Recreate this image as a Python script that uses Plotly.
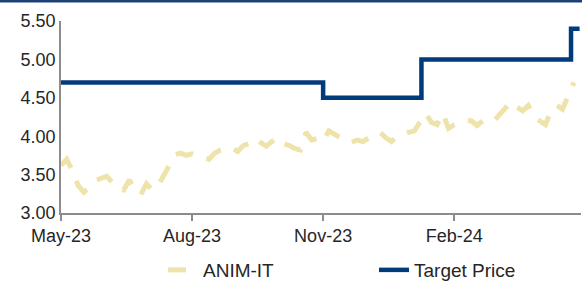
import pandas as pd
import plotly.graph_objects as go

# ANIM-IT price, sampled every 4 days from 2023-05-01
price_start = "2023-05-01"
price_step_days = 4
anim_it = [
    3.62, 3.70, 3.55, 3.36, 3.27, 3.33, 3.42, 3.45, 3.48, 3.40,
    3.31, 3.30, 3.43, 3.30, 3.24, 3.38, 3.30, 3.35, 3.50, 3.62,
    3.76, 3.78, 3.75, 3.77, 3.74, 3.72, 3.70, 3.78, 3.82, 3.83,
    3.85, 3.80, 3.88, 3.90, 3.97, 3.92, 3.87, 3.93, 3.98, 3.90,
    3.88, 3.84, 3.82, 4.05, 3.95, 3.97, 3.93, 4.07, 4.03, 3.98,
    3.93, 3.92, 3.95, 3.93, 3.98, 4.02, 4.05, 3.98, 3.93, 4.00,
    4.03, 4.05, 4.07, 4.20, 4.30, 4.18, 4.15, 4.30, 4.10, 4.15,
    4.18, 4.20, 4.20, 4.14, 4.20, 4.22, 4.20, 4.28, 4.37, 4.30,
    4.38, 4.33, 4.40, 4.25, 4.20, 4.15, 4.33, 4.40, 4.35, 4.52,
    4.70,
]
price_dates = pd.date_range(price_start, periods=len(anim_it), freq=f"{price_step_days}D")

# Target price (step changes)
target_dates = ["2023-05-01", "2023-11-01", "2024-01-09", "2024-04-23", "2024-04-29"]
target_price = [4.70, 4.50, 5.00, 5.40, 5.40]

y_ticks = [3.00, 3.50, 4.00, 4.50, 5.00, 5.50]

fig = go.Figure()
fig.add_trace(go.Scatter(
    x=price_dates, y=anim_it, mode="lines", name="ANIM-IT",
    line=dict(color="#EEE3AA", width=5, dash="18px,14px"),
))
fig.add_trace(go.Scatter(
    x=target_dates, y=target_price, mode="lines", name="Target Price",
    line=dict(color="#023B7C", width=4.5, shape="hv"),
))

font_family = "Liberation Sans, Arial, sans-serif"
fig.update_layout(
    width=582, height=282,
    margin=dict(l=61, r=1, t=21, b=69, autoexpand=False),
    paper_bgcolor="white", plot_bgcolor="white",
    font=dict(family=font_family, size=18, color="#262626"),
    showlegend=True,
    legend=dict(orientation="h", x=(163 - 61) / 520, xanchor="left",
                y=-0.198, yanchor="top",
                font=dict(size=19, color="#262626"),
                entrywidth=166, entrywidthmode="pixels",
                traceorder="normal", bgcolor="rgba(0,0,0,0)"),
    xaxis=dict(
        type="date", range=["2023-05-01", "2024-04-30"],
        tick0="2023-05-01", dtick="M3", tickformat="%b-%y",
        showgrid=False, zeroline=False, automargin=False,
        showline=True, linecolor="#8C8C8C", linewidth=1.5,
        ticks="outside", ticklen=6, tickcolor="#8C8C8C", tickwidth=1.5,
        tickfont=dict(size=18),
    ),
    yaxis=dict(
        range=[3.0, 5.5], tickvals=y_ticks, tickformat=".2f",
        showgrid=False, zeroline=False, automargin=False,
        showline=True, linecolor="#8C8C8C", linewidth=1.5,
        ticks="", tickfont=dict(size=18),
    ),
    shapes=[dict(type="line", xref="paper", yref="paper",
                 x0=-0.2, x1=1.1, y0=1.104, y1=1.104,
                 line=dict(color="#1F3F78", width=3))],
)

fig.write_html("out.html",
               config={"displayModeBar": False},
               post_script="document.body.style.margin='0';document.body.style.overflow='hidden';")
